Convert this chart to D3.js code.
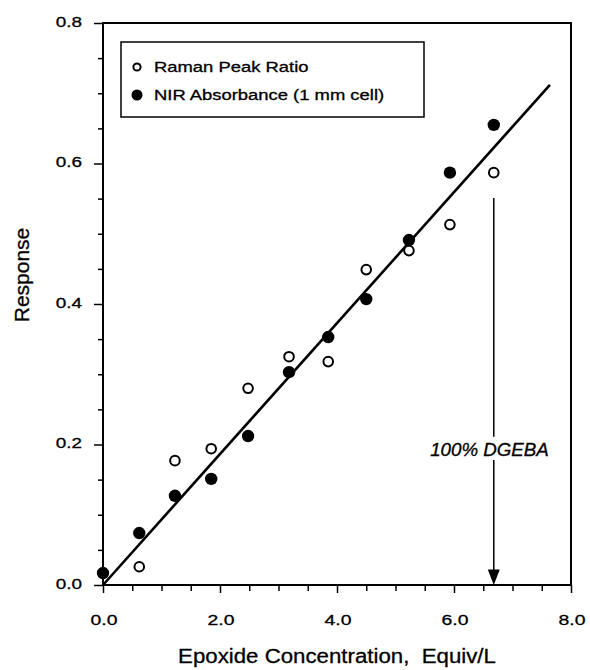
<!DOCTYPE html>
<html><head><meta charset="utf-8">
<script src="https://cdn.jsdelivr.net/npm/d3@7"></script>
<style>body{margin:0;background:#fff}svg{display:block}text{font-family:"Liberation Sans",Arial,Helvetica,sans-serif;fill:#000;stroke:#000;stroke-width:0.3px}</style>
</head><body><svg id="c" width="590" height="670"></svg>
<script>
const concentration = [0, 0.62, 1.23, 1.85, 2.48, 3.18, 3.85, 4.50, 5.23, 5.93, 6.68];
const nirAbsorbance = [0.017, 0.074, 0.127, 0.151, 0.212, 0.303, 0.353, 0.407, 0.491, 0.587, 0.655];
const ramanConc = [0.62, 1.23, 1.85, 2.48, 3.18, 3.85, 4.50, 5.23, 5.93, 6.68];
const ramanRatio = [0.026, 0.177, 0.194, 0.280, 0.325, 0.318, 0.449, 0.476, 0.513, 0.587];
const fitX = [0, 7.64];
const fitY = [0, 0.712];
const xTickLabels = [0, 2, 4, 6, 8];
const yTickLabels = [0, 0.2, 0.4, 0.6, 0.8];
const dgebaConc = 6.68;
const legendLabels = ["Raman Peak Ratio", "NIR Absorbance (1 mm cell)"];

const svg = d3.select("#c");
const x = d3.scaleLinear().domain([0, 8]).range([103, 571]);
const y = d3.scaleLinear().domain([0, 0.8]).range([585, 23]);

function txt(px, py, str, size, sx, anchor, italic) {
  const t = svg.append("text").attr("transform", `translate(${px},${py}) scale(${sx},1)`)
    .attr("text-anchor", anchor || "start").attr("font-size", size).attr("xml:space", "preserve").text(str);
  if (italic) t.attr("font-style", "italic");
  return t;
}

// frame
svg.append("rect").attr("x", x(0)).attr("y", y(0.8)).attr("width", x(8)-x(0)).attr("height", y(0)-y(0.8))
  .attr("fill", "none").attr("stroke", "#000").attr("stroke-width", 2);

// x ticks
const xMinor = d3.range(0, 8.01, 0.5);
const xa = svg.append("g").attr("transform", `translate(0,${y(0)})`)
  .call(d3.axisBottom(x).tickValues(xMinor).tickSize(6).tickFormat(""));
xa.select(".domain").remove();
xa.selectAll("line").attr("stroke-width", 1.5);
xa.selectAll(".tick").filter(d => xTickLabels.includes(d)).select("line").attr("y2", 8);
xTickLabels.forEach(d => txt(x(d) + 1, 625, d.toFixed(1), 15.5, 1.25, "middle"));

// y ticks
const yMinor = d3.range(0, 0.801, 0.05);
const ya = svg.append("g").attr("transform", `translate(${x(0)},0)`)
  .call(d3.axisLeft(y).tickValues(yMinor).tickSize(5).tickFormat(""));
ya.select(".domain").remove();
ya.selectAll("line").attr("stroke-width", 1.5);
ya.selectAll(".tick").filter(d => Math.abs(Math.round(d*5)-d*5) < 1e-6).select("line").attr("x2", -9);
yTickLabels.forEach(d => txt(82, y(d) + 3.5, d.toFixed(1), 15.5, 1.22, "end"));

// axis titles
txt(337, 663, "Epoxide Concentration,  Equiv/L", 21, 1.06, "middle");
svg.append("text").attr("transform", "translate(29,275) rotate(-90)").attr("text-anchor", "middle")
  .attr("font-size", 21).text("Response");

// fit line
svg.append("path").datum(fitX.map((d, i) => [d, fitY[i]]))
  .attr("d", d3.line().x(d => x(d[0])).y(d => y(d[1])))
  .attr("stroke", "#000").attr("stroke-width", 2.6).attr("fill", "none");

// arrow
svg.append("line").attr("x1", x(dgebaConc)).attr("x2", x(dgebaConc)).attr("y1", y(0.551)).attr("y2", y(0.211))
  .attr("stroke", "#000").attr("stroke-width", 1.5);
svg.append("line").attr("x1", x(dgebaConc)).attr("x2", x(dgebaConc)).attr("y1", y(0.178)).attr("y2", y(0.02))
  .attr("stroke", "#000").attr("stroke-width", 1.5);
svg.append("path").attr("d", `M${x(dgebaConc)-6},${y(0.022)} L${x(dgebaConc)+6},${y(0.022)} L${x(dgebaConc)},${y(0)} Z`).attr("fill", "#000");
txt(489.5, 456, "100% DGEBA", 17.5, 1.07, "middle", true);

// points
svg.append("g").selectAll("circle").data(ramanConc.map((d, i) => [d, ramanRatio[i]])).join("circle")
  .attr("cx", d => x(d[0])).attr("cy", d => y(d[1])).attr("r", 4.8)
  .attr("fill", "#fff").attr("stroke", "#000").attr("stroke-width", 2);
svg.append("g").selectAll("circle").data(concentration.map((d, i) => [d, nirAbsorbance[i]])).join("circle")
  .attr("cx", d => x(d[0])).attr("cy", d => y(d[1])).attr("r", 6.2).attr("fill", "#000");

// legend
svg.append("rect").attr("x", 121).attr("y", 42).attr("width", 303).attr("height", 75)
  .attr("fill", "#fff").attr("stroke", "#000").attr("stroke-width", 1.5);
svg.append("circle").attr("cx", 137).attr("cy", 67).attr("r", 3.6).attr("fill", "#fff").attr("stroke", "#000").attr("stroke-width", 2);
svg.append("circle").attr("cx", 137).attr("cy", 95).attr("r", 5.5).attr("fill", "#000");
txt(154, 72, legendLabels[0], 14.5, 1.27, "start");
txt(154, 100, legendLabels[1], 14.5, 1.27, "start");
</script></body></html>
